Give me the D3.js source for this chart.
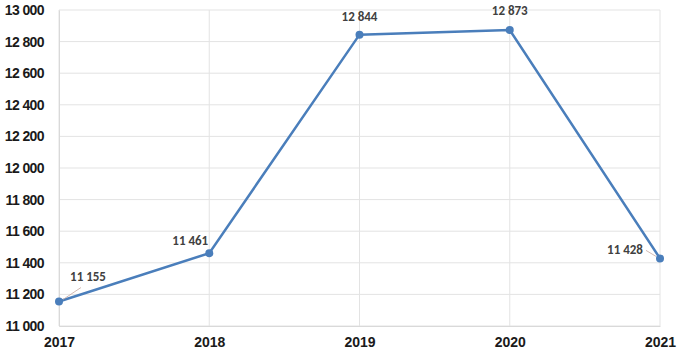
<!DOCTYPE html>
<html>
<head>
<meta charset="utf-8">
<script src="https://cdn.jsdelivr.net/npm/d3@7"></script>
<style>
  body { margin: 0; background: #fff; }
  svg { display: block; font-family: Calibri, Carlito, "Liberation Sans", Arial, sans-serif; }
</style>
</head>
<body>
<svg width="682" height="358"></svg>
<script>
const years = ['2017', '2018', '2019', '2020', '2021'];
const values = [11155, 11461, 12844, 12873, 11428];
const yTicks = [11000, 11200, 11400, 11600, 11800, 12000, 12200, 12400, 12600, 12800, 13000];
// label offsets relative to the point (dx, dy), leader line end (or null)
const labelOffsets = [[29, -24, [22, -14]], [-19, -11, null], [0, -17, null], [0, -18, null], [-35, -8, [-14, -8]]];

const fmt = v => d3.format(',')(v).replace(',', ' ');

const svg = d3.select('svg');
const mLeft = 59, mRight = 660, mTop = 10, mBottom = 326;

const xScale = d3.scalePoint().domain(years).range([mLeft, mRight]);
const yScale = d3.scaleLinear().domain([11000, 13000]).range([mBottom, mTop]);

// grid
svg.append('g')
    .selectAll('line')
    .data(yTicks)
    .join('line')
    .attr('x1', mLeft).attr('x2', mRight)
    .attr('y1', d => yScale(d)).attr('y2', d => yScale(d))
    .attr('stroke', '#e3e3e3').attr('stroke-width', 1);
svg.append('g')
    .selectAll('line')
    .data(years)
    .join('line')
    .attr('x1', d => xScale(d)).attr('x2', d => xScale(d))
    .attr('y1', mTop).attr('y2', mBottom)
    .attr('stroke', '#e3e3e3').attr('stroke-width', 1);

// axes
const yAxis = d3.axisLeft(yScale).tickValues(yTicks).tickFormat(fmt).tickSize(0).tickPadding(15);
const yG = svg.append('g').attr('transform', `translate(${mLeft},0)`).call(yAxis);
yG.select('.domain').attr('stroke', '#d9d9d9');
yG.selectAll('text').attr('font-size', 14).attr('font-weight', 'bold')
    .attr('letter-spacing', -0.6).attr('fill', '#1a1a1a');

const xAxis = d3.axisBottom(xScale).tickSize(0).tickPadding(11);
const xG = svg.append('g').attr('transform', `translate(0,${mBottom})`).call(xAxis);
xG.select('.domain').attr('stroke', '#d9d9d9');
xG.selectAll('text').attr('font-size', 14).attr('font-weight', 'bold').attr('fill', '#1a1a1a');

// line
const line = d3.line().x((d, i) => xScale(years[i])).y(d => yScale(d));
svg.append('path')
    .attr('d', line(values))
    .attr('fill', 'none')
    .attr('stroke', '#4a7ebb')
    .attr('stroke-width', 2.5);

svg.append('g')
    .selectAll('circle')
    .data(values)
    .join('circle')
    .attr('cx', (d, i) => xScale(years[i]))
    .attr('cy', d => yScale(d))
    .attr('r', 4)
    .attr('fill', '#4a7ebb');

// labels
const lbl = svg.append('g');
values.forEach((v, i) => {
  const x = xScale(years[i]), y = yScale(v);
  const [dx, dy, lead] = labelOffsets[i];
  if (lead) {
    lbl.append('line')
        .attr('x1', x + Math.sign(lead[0]) * 4).attr('y1', y - 2)
        .attr('x2', x + lead[0]).attr('y2', y + lead[1])
        .attr('stroke', '#c8a8a0').attr('stroke-width', 0.8);
  }
  lbl.append('text')
      .attr('x', x + dx).attr('y', y + dy)
      .attr('text-anchor', 'middle')
      .attr('dominant-baseline', 'middle')
      .attr('font-size', 13)
      .attr('font-weight', 'bold')
      .attr('fill', '#404040')
      .text(fmt(v));
});
</script>
</body>
</html>
